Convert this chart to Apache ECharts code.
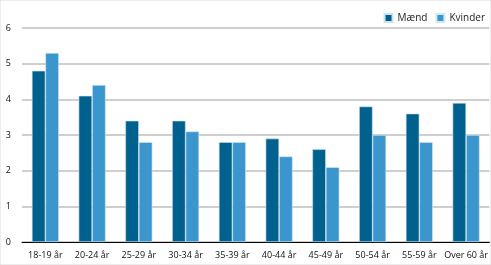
<!DOCTYPE html>
<html><head><meta charset="utf-8">
<script src="https://cdn.jsdelivr.net/npm/echarts@6/dist/echarts.min.js"></script>
<style>html,body{margin:0;padding:0;background:#fff}#c{width:491px;height:265px}</style>
</head><body><div id="c"></div>
<script>
const categories = ['18-19 år','20-24 år','25-29 år','30-34 år','35-39 år','40-44 år','45-49 år','50-54 år','55-59 år','Over 60 år'];
const maend = [4.8,4.1,3.4,3.4,2.8,2.9,2.6,3.8,3.6,3.9];
const kvinder = [5.3,4.4,2.8,3.1,2.8,2.4,2.1,3.0,2.8,3.0];
const yTicks = [0,1,2,3,4,5,6];
const chart = echarts.init(document.getElementById('c'));
const font = 'Open Sans, Liberation Sans, sans-serif';
chart.setOption({
  animation:false,
  textStyle:{fontFamily:font},
  graphic:[{type:'rect',shape:{x:0,y:0,width:491,height:265},style:{fill:'none',stroke:'#d9d9d9',lineWidth:1}}],
  legend:{right:1,top:8,itemWidth:8,itemHeight:8,itemGap:8,textStyle:{fontSize:10,color:'#222',fontFamily:font},
    data:['Mænd','Kvinder'],icon:'rect'},
  grid:{left:22,right:1,top:28,bottom:23},
  xAxis:{type:'category',data:categories,axisLine:{lineStyle:{color:'#000',width:1}},axisTick:{show:false},
    axisLabel:{fontSize:9,color:'#111',margin:9,interval:0}},
  yAxis:{type:'value',min:0,max:6,interval:1,axisLine:{show:false},axisTick:{show:false},
    axisLabel:{fontSize:9,color:'#111',margin:11,formatter:v=>yTicks.includes(v)?String(v):''},
    splitLine:{lineStyle:{color:'#bfbfbf',width:1.5}}},
  series:[
    {name:'Mænd',type:'bar',data:maend,barWidth:13.5,barGap:'0%',itemStyle:{color:'#00618F',borderColor:'#cfe3ee',borderWidth:0.6}},
    {name:'Kvinder',type:'bar',data:kvinder,barWidth:13.5,itemStyle:{color:'#3A96CC',borderColor:'#d5e9f5',borderWidth:0.6}}
  ]
});
</script></body></html>
